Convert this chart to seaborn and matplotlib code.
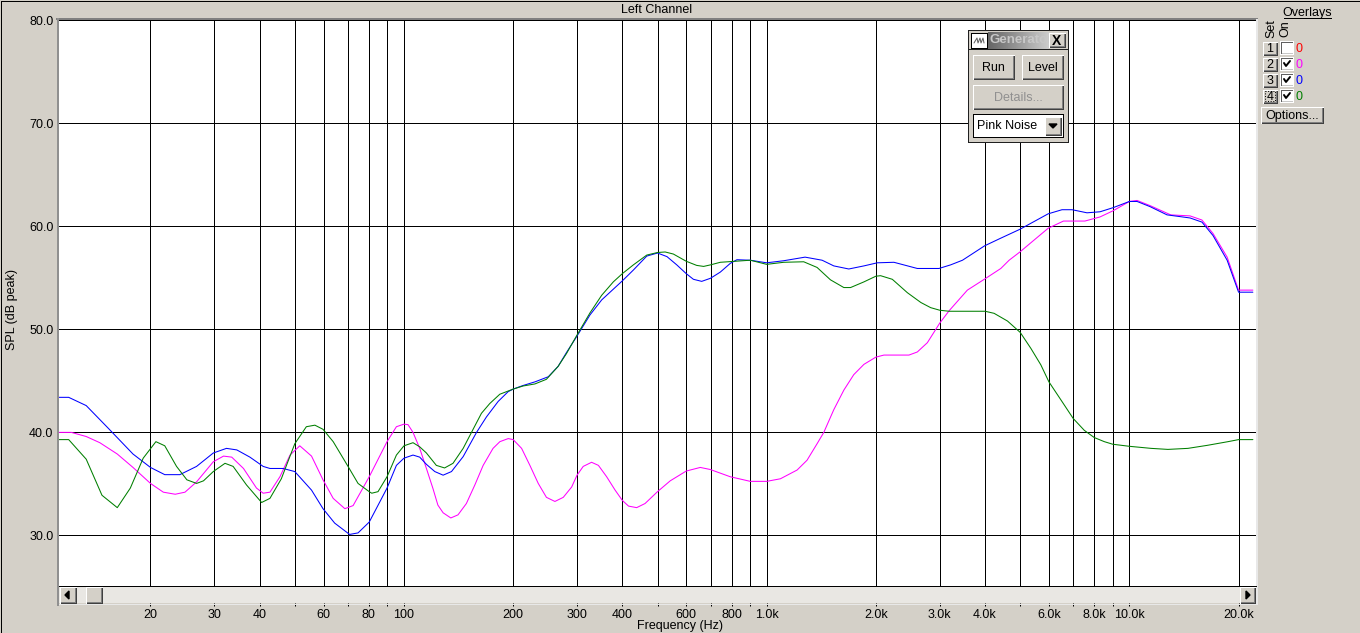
import numpy as np
import pandas as pd
import matplotlib
matplotlib.use("Agg")
import matplotlib.pyplot as plt
import matplotlib.transforms as mtransforms
from matplotlib.lines import Line2D
from matplotlib.patches import Rectangle, Polygon
import seaborn as sns

# curves: frequency in Hz, SPL in dB
green_freq = [11.2, 11.9, 13.3, 14.7, 16.2, 17.6, 19.1, 20.7, 21.9, 23.6, 25.2, 26.8, 28, 29.8, 32.1, 33.8, 36.8,
              40.5, 42.7, 45.9, 50, 53.8, 56.8, 59.8, 63.8, 70.1, 74.7, 80.2, 81.5, 84.8, 89.8, 95.3, 100, 105.9,
              110.5, 115.3, 122.8, 129.4, 136.5, 145.6, 153.5, 163.5, 172.4, 183.7, 200, 213, 229.6, 247, 266, 280.6,
              300, 325.8, 350.8, 377.7, 400, 429, 467, 500, 525, 553, 600, 641, 670, 700, 745, 901, 1000, 1114, 1265,
              1377, 1499, 1632, 1703, 1854, 2000, 2061, 2220, 2443, 2661, 2832, 3000, 3184, 4000, 4236, 4613, 5000,
              5350, 5700, 6000, 6475, 7000, 7510, 8000, 8530, 9000, 10000, 11480, 12770, 14500, 16440, 18700, 20000,
              21900]
green_spl = [39.3, 39.3, 37.4, 33.9, 32.7, 34.6, 37.5, 39.1, 38.7, 36.7, 35.4, 35.05, 35.3, 36.2, 37.0, 36.7, 34.9,
             33.2, 33.6, 35.5, 38.9, 40.55, 40.7, 40.3, 39.1, 36.7, 35.05, 34.25, 34.1, 34.25, 35.7, 37.8, 38.7, 39.0,
             38.6, 38.0, 36.8, 36.55, 37.0, 38.45, 40, 41.85, 42.8, 43.7, 44.2, 44.5, 44.7, 45.15, 46.4, 47.65,
             49.45, 51.6, 53.3, 54.6, 55.4, 56.25, 57.2, 57.45, 57.5, 57.3, 56.6, 56.2, 56.1, 56.25, 56.5, 56.7, 56.3,
             56.5, 56.55, 56.0, 54.8, 54.05, 54.05, 54.6, 55.15, 55.2, 54.85, 53.55, 52.6, 52.1, 51.85, 51.75, 51.75,
             51.55, 50.8, 49.7, 48.15, 46.55, 44.9, 43.15, 41.35, 40.2, 39.5, 39.1, 38.85, 38.65, 38.45, 38.35, 38.45,
             38.75, 39.1, 39.3, 39.3]

blue_freq = [11.2, 11.9, 13.3, 15.3, 17.9, 20, 21.9, 24.1, 26.8, 29.8, 32.4, 34.6, 37.6, 40.9, 42.7, 46.4, 50, 55.6,
             59.8, 64.4, 70.8, 74.7, 80.2, 89.8, 95.3, 100, 105.9, 110.5, 115.3, 121.6, 128.2, 135.2, 145.6, 158.5,
             168.8, 181.8, 193.7, 200, 213, 229.6, 250, 266, 280.6, 300, 325.8, 350.8, 400, 429, 467, 500, 531, 565,
             600, 628, 662, 700, 745, 794, 828, 901, 1000, 1114, 1276, 1422, 1531, 1684, 1854, 2018, 2243, 2602, 2985,
             3215, 3466, 3990, 4395, 4990, 5970, 6520, 6950, 7640, 8300, 9020, 10000, 10500, 11400, 12700, 14700,
             15850, 17000, 18600, 20000, 21900]
blue_spl = [43.4, 43.4, 42.6, 40.4, 37.9, 36.6, 35.9, 35.9, 36.7, 38.0, 38.45, 38.3, 37.6, 36.7, 36.5, 36.5, 36.2,
            34.4, 32.6, 31.2, 30.1, 30.25, 31.3, 34.6, 36.8, 37.5, 37.8, 37.6, 36.9, 36.2, 35.85, 36.2, 37.65, 40,
            41.5, 43, 43.95, 44.2, 44.55, 44.9, 45.4, 46.4, 47.75, 49.35, 51.4, 52.85, 54.7, 55.75, 57.1, 57.4, 57.05,
            56.25, 55.4, 54.85, 54.65, 54.95, 55.55, 56.4, 56.75, 56.7, 56.45, 56.65, 57.0, 56.7, 56.15, 55.85, 56.15,
            56.45, 56.5, 55.9, 55.9, 56.25, 56.7, 58.1, 58.8, 59.7, 61.2, 61.6, 61.6, 61.3, 61.4, 61.8, 62.4, 62.4,
            61.9, 61.1, 60.8, 60.4, 59.1, 56.7, 53.6, 53.6]

magenta_freq = [11.2, 12.1, 13.3, 14.5, 16.2, 17.9, 20, 21.7, 23.4, 24.9, 26.8, 29.8, 31.8, 33.5, 36.1, 39.2, 40.9,
                42.7, 45.5, 48.5, 51.6, 55.6, 59.8, 63.8, 68.7, 72.4, 80.2, 89.8, 95.3, 100, 102.6, 105.9, 110.5,
                115.3, 120.2, 124, 128.2, 134.6, 140.9, 148.6, 156.8, 165.3, 176, 183.8, 193.8, 200, 211, 222.4, 234.5,
                247, 260.7, 274.9, 289.9, 300, 312, 329, 343.6, 362, 382, 400, 416, 438, 462, 500, 542, 600, 656, 699,
                793, 901, 1000, 1091, 1213, 1292, 1377, 1437, 1531, 1632, 1738, 1854, 2000, 2105, 2467, 2602, 2773,
                3000, 3184, 3575, 4000, 4421, 4660, 4990, 5970, 6580, 7540, 8300, 9020, 10000, 10500, 11400, 13000,
                14700, 15850, 17000, 18600, 20000, 21900]
magenta_spl = [40.0, 40.0, 39.6, 39.0, 37.9, 36.6, 35.05, 34.2, 34.0, 34.2, 35.2, 37.15, 37.7, 37.6, 36.5, 34.6, 34.1,
               34.2, 35.7, 37.8, 38.7, 37.7, 35.4, 33.6, 32.6, 32.9, 35.7, 39.1, 40.55, 40.8, 40.75, 40.0, 38.45,
               36.5, 34.55, 32.95, 32.2, 31.7, 32.0, 33.1, 34.9, 36.8, 38.45, 39.1, 39.4, 39.3, 38.45, 36.8, 35.05,
               33.7, 33.3, 33.7, 34.7, 35.85, 36.7, 37.1, 36.8, 35.7, 34.4, 33.4, 32.85, 32.7, 33.1, 34.25, 35.3,
               36.25, 36.6, 36.4, 35.7, 35.25, 35.25, 35.5, 36.35, 37.3, 38.9, 40, 42.2, 44.1, 45.6, 46.6, 47.3, 47.5,
               47.5, 47.8, 48.7, 50.6, 51.8, 53.8, 54.9, 55.9, 56.7, 57.5, 59.8, 60.5, 60.5, 60.9, 61.5, 62.4, 62.5,
               62.0, 61.1, 61.0, 60.6, 59.3, 57.0, 53.8, 53.8]

x_ticks = [20, 30, 40, 50, 60, 70, 80, 90, 100, 200, 300, 400, 500, 600, 700, 800, 900, 1000,
           2000, 3000, 4000, 5000, 6000, 7000, 8000, 9000, 10000, 20000]
x_labels = ["20", "30", "40", "", "60", "", "80", "", "100", "200", "300", "400", "", "600", "", "800", "", "1.0k",
            "2.0k", "3.0k", "4.0k", "", "6.0k", "", "8.0k", "", "10.0k", "20.0k"]
y_ticks = [30, 40, 50, 60, 70, 80]
y_labels = ["30.0", "40.0", "50.0", "60.0", "70.0", "80.0"]
overlay_names = ["1", "2", "3", "4"]
overlay_on = [False, True, True, True]

BG = "#D4D0C8"
MAGENTA = "#FF00FF"
BLUE = "#0000FF"
GREEN = "#007F00"
overlay_colors = ["#FF0000", MAGENTA, BLUE, GREEN]
FONT = "Liberation Sans"

sns.set_theme(style="white")
plt.rcParams["font.family"] = [FONT, "DejaVu Sans"]

fig = plt.figure(figsize=(13.6, 6.33), dpi=100, facecolor=BG)
# window pixels, y going down
px = mtransforms.Affine2D().scale(1, -1).translate(0, 633)


def rect(x0, y0, x1, y1, fc, ec="none", z=2, lw=0.72):
    fig.add_artist(Rectangle((x0, y0), x1 - x0, y1 - y0, transform=px, facecolor=fc, edgecolor=ec,
                             linewidth=lw, antialiased=False, zorder=z))


def line(xs, ys, color, z=3, lw=0.72):
    fig.add_artist(Line2D(xs, ys, transform=px, color=color, linewidth=lw, antialiased=False, zorder=z))


def label(x, y, s, color="black", size=9, **kw):
    kw.setdefault("ha", "center")
    kw.setdefault("va", "center")
    fig.text(x, y + 1, s, transform=px, color=color, fontsize=size, zorder=5, **kw)


def button(x0, y0, x1, y1, s=None, color="black", z=3, size=9, **kw):
    rect(x0, y0, x1, y1, BG, z=z)
    line([x0, x1, x1], [y1, y1, y0], "#404040", z=z)
    line([x0 + 1, x1 - 1, x1 - 1], [y1 - 1, y1 - 1, y0 + 1], "#808080", z=z)
    line([x0, x0, x1], [y1, y0, y0], "white", z=z)
    if s:
        label((x0 + x1) / 2, (y0 + y1) / 2, s, color=color, size=size, **kw)


# main plot, runs on under the scrollbar down to the tick marks
ax = fig.add_axes([59 / 1360, (633 - 603) / 633, (1256 - 59) / 1360, (603 - 19) / 633])
for freq, spl, color in [(magenta_freq, magenta_spl, MAGENTA), (blue_freq, blue_spl, BLUE),
                         (green_freq, green_spl, GREEN)]:
    df = pd.DataFrame({"freq": freq, "spl": spl})
    sns.lineplot(data=df, x="freq", y="spl", color=color, linewidth=0.75, estimator=None, sort=False,
                 ax=ax, zorder=3)
ax.set_xscale("log")
ax.set_xlim(11.19, 22340)
ax.set_ylim(23.45, 80.1)
ax.set_xticks(x_ticks)
ax.set_xticklabels(x_labels, fontsize=9, color="black")
ax.set_yticks(y_ticks)
ax.set_yticklabels(y_labels, fontsize=9, color="black")
ax.minorticks_off()
ax.grid(True, color="black", linewidth=0.72, antialiased=False, zorder=1)
ax.set_axisbelow(True)
ax.tick_params(axis="x", bottom=True, length=2.2, width=0.72, color="black", pad=2)
ax.tick_params(axis="y", left=False, length=0, pad=4)
ax.set_xlabel("")
ax.set_ylabel("")
for sp in ax.spines.values():
    sp.set_visible(False)

label(657, 9, "Left Channel")
label(680, 625, "Frequency (Hz)")
label(12, 309, "SPL (dB peak)", rotation=90)

# window frame and sunken plot edge
rect(0.5, 0.5, 1359.5, 632.5, "none", ec="black", z=6)
rect(56, 18, 1258, 20, "#808080", z=1)
rect(57, 18, 59, 606, "#909090", z=1)
rect(1256, 19, 1258, 605, "#E8E8E8", z=1)
rect(59, 603.5, 1258, 605, "#E8E8E8", z=1)

# scrollbar
rect(59, 586, 1256, 603, "#E9E7E3", z=2)
line([59, 1256], [586, 586], "black")
button(60, 587, 76, 603)
fig.add_artist(Polygon([(65, 595), (69, 591), (69, 599)], transform=px, color="black", zorder=4))
button(86, 587, 102, 603)
button(1240, 587, 1255, 603)
fig.add_artist(Polygon([(1250, 595), (1246, 591), (1246, 599)], transform=px, color="black", zorder=4))

# generator window
rect(968, 30, 1068, 142, BG, ec="#202020", z=3)
grad = fig.add_axes([988 / 1360, (633 - 49) / 633, 61 / 1360, 17 / 633], zorder=3.5)
grad.imshow(np.linspace(0.4, 0.8, 64).reshape(1, -1), cmap="gray", vmin=0, vmax=1, aspect="auto")
grad.axis("off")
line([968, 1068], [49, 49], "#202020", z=4)
rect(971, 33, 987, 48, "white", ec="black", z=4)
fig.add_artist(Line2D([974, 977, 978, 980, 981, 983, 984], [43, 38, 43, 38, 43, 38, 43], transform=px,
                      color="#606060", linewidth=0.72, zorder=5))
label(989, 39, "Generator", color="#C8C8C8", size=9.5, ha="left", fontweight="bold",
      clip_on=True, clip_box=mtransforms.Bbox([[988, 500], [1049, 633]]))
button(1049, 33, 1065, 47, "X", size=10, z=4, fontweight="bold")
button(973, 55, 1014, 79, "Run")
button(1022, 55, 1063, 79, "Level")
button(973, 85, 1063, 109, "Details...", color="#909090")
rect(973, 114, 1063, 137, "white", ec="black", z=4)
label(977, 125, "Pink Noise", ha="left")
button(1045, 117, 1061, 135, z=4)
fig.add_artist(Polygon([(1049, 124), (1057, 124), (1053, 128)], transform=px, color="black", zorder=5))

# overlay panel
label(1307, 12, "Overlays")
line([1284, 1331], [18, 18], "black")
label(1271, 28, "Set", rotation=90)
label(1285, 28, "On", rotation=90)
for i, name in enumerate(overlay_names):
    yc = 48 + 16 * i
    button(1263, yc - 6.5, 1277, yc + 6.5, name)
    rect(1280, yc - 7, 1294, yc + 7, "white", z=3)
    line([1281, 1281, 1292], [yc + 5, yc - 6, yc - 6], "#606060", z=4)
    line([1282, 1292], [yc + 5, yc + 5], "#C8C8C8", z=4)
    if overlay_on[i]:
        fig.add_artist(Line2D([1284, 1286, 1290], [yc - 1, yc + 2, yc - 3], transform=px, color="black",
                              linewidth=1.4, zorder=5))
    label(1299, yc, "0", color=overlay_colors[i])
fig.add_artist(Rectangle((1265, 91), 10, 10, transform=px, fill=False, edgecolor="black", linestyle=":",
                         linewidth=0.72, zorder=4))
button(1261, 107, 1323, 123, "Options...")

fig.savefig("out.png", dpi=100, facecolor=BG)
